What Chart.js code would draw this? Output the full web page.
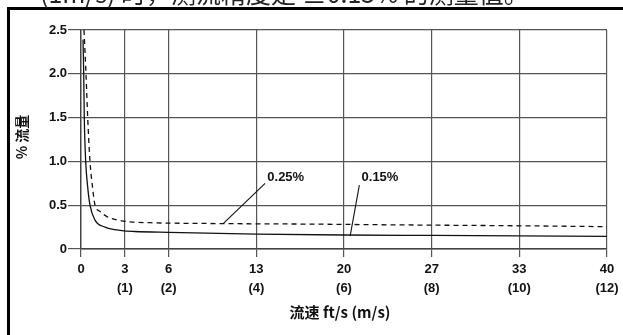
<!DOCTYPE html>
<html><head><meta charset="utf-8">
<script src="https://cdn.jsdelivr.net/npm/chart.js@4"></script>
<style>html,body{margin:0;padding:0;background:#fff;}canvas{display:block;}</style>
</head><body>
<canvas id="c" width="623" height="335"></canvas>
<script>
// ---- data ----
const ftLabels = ['0','3','6','13','20','27','33','40'];
const msTicks = [0,1,2,4,6,8,10,12];
const msLabels = ['','(1)','(2)','(4)','(6)','(8)','(10)','(12)'];
const yTickLabels = ['0','0.5','1.0','1.5','2.0','2.5'];
const seriesNames = ['0.15%','0.25%'];
const velocity015 = [0.046,0.062,0.075,0.107,0.15,0.205,0.32,0.55,0.93,1.23,2.0,4.0,6.0,8.0,10.0,12.0];
const error015    = [2.39,2.0,1.5,1.0,0.72,0.5,0.33,0.25,0.21,0.20,0.19,0.17,0.16,0.155,0.15,0.145];
const velocity025 = [0.068,0.114,0.153,0.205,0.26,0.32,0.43,0.59,0.84,1.12,1.58,3.24,5.0,7.3,10.0,12.0];
const error025    = [2.5,2.0,1.5,1.0,0.72,0.5,0.43,0.37,0.33,0.31,0.30,0.29,0.285,0.275,0.265,0.255];
const calloutLabels = ['0.25%','0.15%'];
const calloutFromX = [3.25,6.14];
const calloutFromY = [0.293,0.148];
const calloutToX = [4.2,6.35];
const calloutToY = [0.75,0.73];
const calloutTextX = [4.25,6.4];
const calloutTextY = [0.82,0.82];
const headerText = '(1m/s) 时，测流精度是 ±0.15% 的测量值。';
const yTitle = '% 流量';
const xTitle = '流速 ft/s (m/s)';

const NARROW = "'Liberation Sans Narrow','Liberation Sans',Arial,sans-serif";
const CJK = "'Liberation Sans Narrow','Noto Sans CJK SC',sans-serif";
const GRID = '#555';

const decor = {
  id: 'decor',
  afterDraw(chart) {
    const ctx = chart.ctx, xs = chart.scales.x, ys = chart.scales.y;
    ctx.save();
    // outer frame (cropped box)
    ctx.fillStyle = '#000';
    ctx.fillRect(7, 7, 3, 335);
    ctx.fillRect(7, 7, 623, 3);
    // header text (cut by top edge)
    ctx.font = "25px 'Noto Sans CJK SC',sans-serif";
    ctx.textAlign = 'left';
    ctx.textBaseline = 'alphabetic';
    ctx.fillStyle = '#222';
    ctx.fillText(headerText, 40, 3);
    // axis titles
    ctx.fillStyle = '#111';
    ctx.font = "bold 15px " + CJK;
    ctx.textAlign = 'center';
    ctx.textBaseline = 'middle';
    ctx.fillText(xTitle, (xs.left + xs.right) / 2 - 4, 312);
    ctx.save();
    ctx.translate(22, 137);
    ctx.rotate(-Math.PI / 2);
    ctx.font = "bold 14px " + CJK;
    ctx.fillText(yTitle, 0, 0);
    ctx.restore();
    // callouts
    ctx.strokeStyle = '#111';
    ctx.lineWidth = 1.1;
    ctx.font = "bold 13px " + NARROW;
    ctx.textAlign = 'left';
    for (let i = 0; i < calloutLabels.length; i++) {
      ctx.beginPath();
      ctx.moveTo(xs.getPixelForValue(calloutFromX[i]), ys.getPixelForValue(calloutFromY[i]));
      ctx.lineTo(xs.getPixelForValue(calloutToX[i]), ys.getPixelForValue(calloutToY[i]));
      ctx.stroke();
      ctx.fillText(calloutLabels[i], xs.getPixelForValue(calloutTextX[i]), ys.getPixelForValue(calloutTextY[i]));
    }
    ctx.restore();
  }
};

new Chart(document.getElementById('c'), {
  type: 'line',
  data: {
    datasets: [
      {
        label: seriesNames[0],
        data: velocity015.map((v, i) => ({x: v, y: error015[i]})),
        borderColor: '#111', borderWidth: 1.3, pointRadius: 0,
        cubicInterpolationMode: 'monotone', fill: false
      },
      {
        label: seriesNames[1],
        data: velocity025.map((v, i) => ({x: v, y: error025[i]})),
        borderColor: '#111', borderWidth: 1.3, pointRadius: 0, borderDash: [5, 4],
        cubicInterpolationMode: 'monotone', fill: false
      }
    ]
  },
  options: {
    responsive: false,
    animation: false,
    layout: {padding: {top: 30, right: 16, left: 0, bottom: 0}},
    plugins: {legend: {display: false}, tooltip: {enabled: false}},
    scales: {
      x: {
        type: 'linear', min: 0, max: 12,
        afterBuildTicks: s => { s.ticks = msTicks.map(v => ({value: v})); },
        afterFit: s => { s.height = 86; },
        grid: {color: GRID, lineWidth: 1.2, tickLength: 8, drawTicks: true, tickColor: GRID},
        border: {color: '#444', width: 1.4},
        ticks: {
          padding: 3, color: '#111', maxRotation: 0, autoSkip: false,
          font: {family: NARROW, size: 13, weight: 'bold', lineHeight: 1.45},
          callback: (v, i) => msLabels[i] ? [ftLabels[i], msLabels[i]] : ftLabels[i]
        }
      },
      y: {
        min: 0, max: 2.5,
        ticks: {
          stepSize: 0.5, padding: 1, color: '#111',
          font: {family: NARROW, size: 13, weight: 'bold'},
          callback: (v, i) => yTickLabels[i]
        },
        afterFit: s => { s.width = 81; },
        grid: {color: GRID, lineWidth: 1.2, tickLength: 13, tickColor: GRID},
        border: {color: '#444', width: 1.4}
      }
    }
  },
  plugins: [decor]
});
</script>
</body></html>
